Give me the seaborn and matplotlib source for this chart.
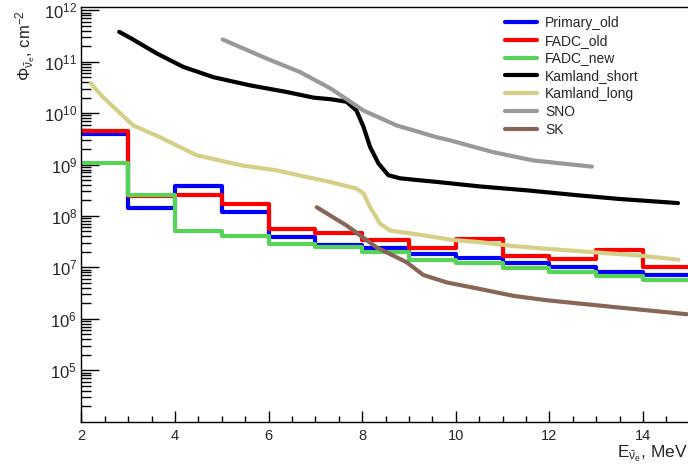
import numpy as np
import pandas as pd
import seaborn as sns
import matplotlib
matplotlib.use("Agg")
import matplotlib.pyplot as plt
from matplotlib.ticker import FixedLocator, LogLocator, MultipleLocator, LogFormatterSciNotation, NullFormatter

# ---- binned spectra (1 MeV bins from 2 to 15 MeV) ----
bin_edges = [2, 3, 4, 5, 6, 7, 8, 9, 10, 11, 12, 13, 14, 15]
primary_old = [3.9e9, 1.44e8, 3.9e8, 1.18e8, 3.85e7, 2.73e7, 2.35e7, 1.82e7, 1.5e7, 1.2e7, 1.0e7, 8.2e6, 7.1e6]
fadc_old = [4.5e9, 2.4e8, 2.5e8, 1.72e8, 5.7e7, 4.7e7, 3.42e7, 2.35e7, 3.58e7, 1.69e7, 1.43e7, 2.18e7, 1.03e7]
fadc_new = [1.06e9, 2.6e8, 5.2e7, 4.0e7, 2.86e7, 2.45e7, 1.96e7, 1.41e7, 1.2e7, 9.7e6, 8.0e6, 6.9e6, 5.8e6]

# ---- reference curves ----
kamland_short_e = [2.81, 3.04, 3.61, 4.18, 4.82, 5.60, 6.39, 6.96, 7.33, 7.67, 7.88, 8.03, 8.17, 8.35,
                   8.56, 8.81, 9.17, 9.59, 10.53, 11.5, 12.66, 13.5, 14.75]
kamland_short_f = [3.8e11, 2.92e11, 1.45e11, 7.9e10, 5.0e10, 3.47e10, 2.57e10, 2.0e10, 1.86e10, 1.66e10,
                   1.12e10, 5.4e9, 2.2e9, 1.05e9, 6.2e8, 5.4e8, 5.0e8, 4.6e8, 3.74e8, 3.16e8, 2.5e8,
                   2.14e8, 1.78e8]

kamland_long_e = [2.2, 2.45, 2.76, 3.11, 3.68, 4.47, 5.46, 6.18, 6.82, 7.31, 7.88, 8.03, 8.17, 8.28,
                  8.38, 8.6, 9.24, 9.95, 10.52, 11.23, 11.94, 13.01, 13.94, 14.76]
kamland_long_f = [3.8e10, 2.1e10, 1.14e10, 5.75e9, 3.4e9, 1.51e9, 9.5e8, 7.7e8, 5.7e8, 4.6e8, 3.4e8,
                  2.75e8, 1.48e8, 1.02e8, 7.1e7, 5.2e7, 4.3e7, 3.4e7, 3.1e7, 2.6e7, 2.3e7, 1.95e7,
                  1.7e7, 1.41e7]

sno_e = [5.02, 5.96, 6.67, 7.33, 8.03, 8.74, 9.59, 9.88, 10.80, 11.66, 12.91]
sno_f = [2.7e11, 1.15e11, 6.3e10, 3.0e10, 1.12e10, 5.75e9, 3.4e9, 2.95e9, 1.74e9, 1.2e9, 9.1e8]

sk_e = [7.03, 7.67, 8.31, 8.95, 9.31, 9.81, 10.52, 11.23, 11.94, 13.37, 14.94]
sk_f = [1.48e8, 6.5e7, 2.45e7, 1.26e7, 7.1e6, 5.1e6, 3.8e6, 2.8e6, 2.3e6, 1.7e6, 1.23e6]

sns.set_theme(style="ticks")
plt.rcParams.update({
    "font.family": ["Liberation Sans", "DejaVu Sans"],
    "mathtext.fontset": "custom",
    "mathtext.rm": "Liberation Sans",
    "mathtext.it": "Liberation Sans:italic",
    "mathtext.default": "regular",
    "axes.linewidth": 1.0,
    "axes.edgecolor": "black",
})

W, H = 688, 467
fig = plt.figure(figsize=(W / 100, H / 100), dpi=100)
x0, x1, ytop, ybot = 81.3, 689.7, 7.3, 421.7
ax = fig.add_axes([x0 / W, (H - ybot) / H, (x1 - x0) / W, (ybot - ytop) / H])
ax.set_yscale("log")

centers = [(a + b) / 2 for a, b in zip(bin_edges[:-1], bin_edges[1:])]
lw = 3.0

for vals, col, name in [(primary_old, "#0000ff", "Primary_old"),
                        (fadc_old, "#ff0000", "FADC_old"),
                        (fadc_new, "#57d357", "FADC_new")]:
    df = pd.DataFrame({"E": centers, "flux": vals})
    sns.histplot(data=df, x="E", weights="flux", bins=list(bin_edges), element="step",
                 fill=False, color=col, linewidth=lw, label=name, ax=ax)

for xs, ys, col, name in [(kamland_short_e, kamland_short_f, "#000000", "Kamland_short"),
                          (kamland_long_e, kamland_long_f, "#d5cf88", "Kamland_long"),
                          (sno_e, sno_f, "#999999", "SNO"),
                          (sk_e, sk_f, "#876657", "SK")]:
    sns.lineplot(x=xs, y=ys, color=col, linewidth=lw, label=name, ax=ax)

ax.set_xlim(2, 15)
ax.set_ylim(1e4, 1.14e12)

# axes styling
ax.spines["right"].set_visible(False)
ax.xaxis.set_major_locator(MultipleLocator(2))
ax.xaxis.set_minor_locator(MultipleLocator(0.5))
ax.yaxis.set_major_locator(FixedLocator([10.0 ** k for k in range(5, 13)]))
ax.yaxis.set_minor_locator(LogLocator(base=10, subs=np.arange(2, 10)))
ax.yaxis.set_major_formatter(LogFormatterSciNotation())
ax.yaxis.set_minor_formatter(NullFormatter())
ax.tick_params(axis="both", which="both", direction="in", color="black", width=1.0,
               top=False, right=False)
ax.tick_params(axis="x", which="major", length=8, pad=5, labelsize=10.5)
ax.tick_params(axis="x", which="minor", length=4.3)
ax.tick_params(axis="y", which="major", length=13, pad=3, labelsize=12)
ax.tick_params(axis="y", which="minor", length=7.2)
ax.grid(False)

ax.set_xlabel(r"E$_{\bar{\nu}_e}$, MeV", fontsize=12.5, loc="right")
ax.xaxis.set_label_coords(1.0 - 2 / (x1 - x0), -0.052)
ax.set_ylabel(r"$\Phi_{\bar{\nu}_e}$, cm$^{-2}$", fontsize=12, loc="top")
ax.yaxis.set_label_coords(-0.071, 0.993)

handles, labels = ax.get_legend_handles_labels()
leg = ax.legend(handles, labels, loc="upper left",
                bbox_to_anchor=(505 / W, 1 - 16 / H), bbox_transform=fig.transFigure,
                frameon=False, fontsize=10, handlelength=2.3, handletextpad=0.58,
                labelspacing=0.27, borderpad=0, borderaxespad=0)

fig.savefig("out.png", dpi=100)
